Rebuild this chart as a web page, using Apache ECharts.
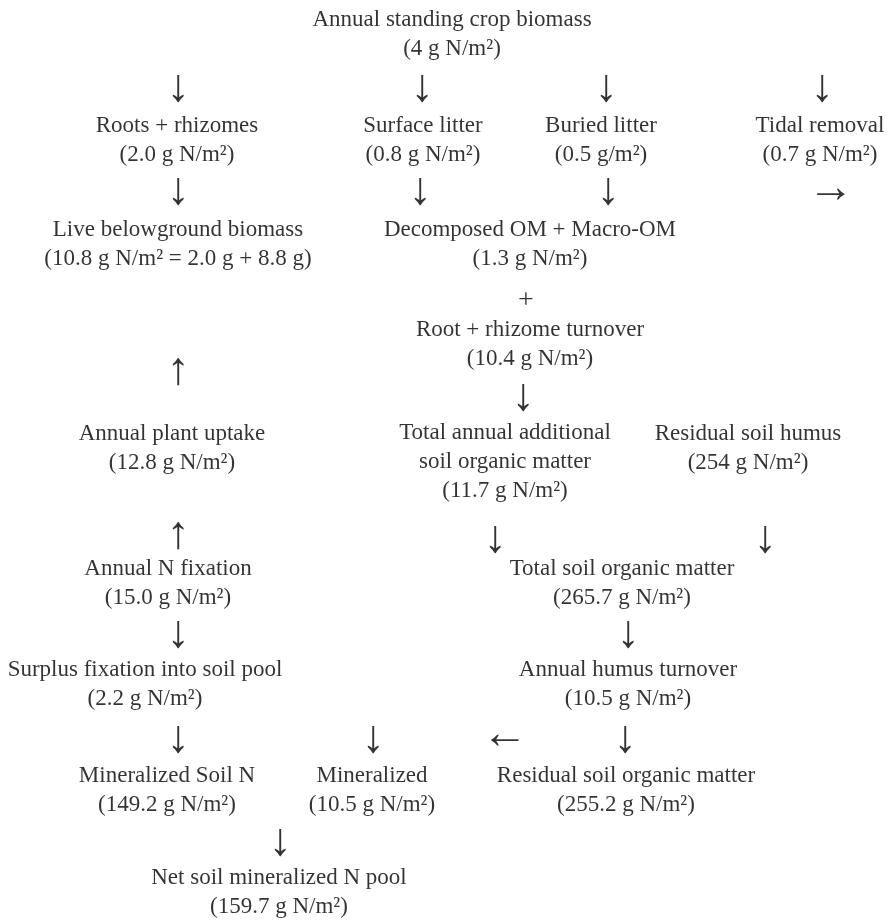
<!DOCTYPE html>
<html>
<head>
<meta charset="utf-8">
<script src="https://cdn.jsdelivr.net/npm/echarts@6/dist/echarts.min.js"></script>
<style>
  html, body { margin: 0; padding: 0; background: #fff; }
  #main { width: 895px; height: 922px; }
</style>
</head>
<body>
<div id="main"></div>
<script>
// pool / flux names and their values (g N per m2)
var nodeNames = [
  'Annual standing crop biomass',
  'Roots + rhizomes',
  'Surface litter',
  'Buried litter',
  'Tidal removal',
  'Live belowground biomass',
  'Decomposed OM + Macro-OM',
  'Root + rhizome turnover',
  'Annual plant uptake',
  'Total annual additional\nsoil organic matter',
  'Residual soil humus',
  'Annual N fixation',
  'Total soil organic matter',
  'Surplus fixation into soil pool',
  'Annual humus turnover',
  'Mineralized Soil N',
  'Mineralized',
  'Residual soil organic matter',
  'Net soil mineralized N pool'
];
var nodeValues = [
  '(4 g N/m²)',
  '(2.0 g N/m²)',
  '(0.8 g N/m²)',
  '(0.5 g/m²)',
  '(0.7 g N/m²)',
  '(10.8 g N/m² = 2.0 g + 8.8 g)',
  '(1.3 g N/m²)',
  '(10.4 g N/m²)',
  '(12.8 g N/m²)',
  '(11.7 g N/m²)',
  '(254 g N/m²)',
  '(15.0 g N/m²)',
  '(265.7 g N/m²)',
  '(2.2 g N/m²)',
  '(10.5 g N/m²)',
  '(149.2 g N/m²)',
  '(10.5 g N/m²)',
  '(255.2 g N/m²)',
  '(159.7 g N/m²)'
];
// diagram layout (centre of each text block)
var nodeX = [452, 177, 423, 601, 820, 178, 530, 530, 172, 505, 748, 168, 622, 145, 628, 167, 372, 626, 279];
var nodeY = [34, 140, 140, 140, 140, 244, 244, 344, 448, 462, 448, 583, 583, 684, 684, 790, 790, 790, 892];

// connectors between the blocks
var arrowGlyphs = ['↓', '↓', '↓', '↓', '↓', '↓', '↓', '→', '↓', '↑', '↑', '↓', '↓', '↓', '↓', '↓', '↓', '←', '↓', '↓'];
var arrowX = [178, 422, 606, 822, 178, 420, 608, 831, 523, 178, 178, 495, 765, 178, 628, 178, 373, 505, 625, 280];
var arrowY = [89, 89, 89, 89, 192, 192, 192, 190, 398, 372, 536, 540, 540, 635, 635, 740, 740, 736, 740, 843];
var plusX = 526;
var plusY = 301;

var chart = echarts.init(document.getElementById('main'));

var nodeData = [];
for (var i = 0; i < nodeNames.length; i++) {
  nodeData.push({ value: [nodeX[i], nodeY[i]], label: { formatter: nodeNames[i] + '\n' + nodeValues[i] } });
}
var arrowData = [];
for (var j = 0; j < arrowGlyphs.length; j++) {
  arrowData.push({ value: [arrowX[j], arrowY[j]], label: { formatter: arrowGlyphs[j] } });
}

var baseLabel = {
  show: true,
  position: 'inside',
  align: 'center',
  verticalAlign: 'middle',
  color: '#000',
  fontFamily: 'Liberation Serif'
};

var option = {
  backgroundColor: '#fff',
  animation: false,
  grid: { left: 0, right: 0, top: 0, bottom: 0 },
  xAxis: { type: 'value', min: 0, max: 895, show: false },
  yAxis: { type: 'value', min: 0, max: 922, inverse: true, show: false },
  series: [{
    type: 'scatter',
    symbolSize: 1,
    itemStyle: { color: 'transparent' },
    silent: true,
    label: Object.assign({}, baseLabel, { fontSize: 23, lineHeight: 29 }),
    data: nodeData
  }, {
    type: 'scatter',
    symbolSize: 1,
    itemStyle: { color: 'transparent' },
    silent: true,
    label: Object.assign({}, baseLabel, { fontSize: 46 }),
    data: arrowData
  }, {
    type: 'scatter',
    symbolSize: 1,
    itemStyle: { color: 'transparent' },
    silent: true,
    label: Object.assign({}, baseLabel, { fontSize: 28, formatter: '+' }),
    data: [[plusX, plusY]]
  }]
};
chart.setOption(option);
</script>
</body>
</html>
